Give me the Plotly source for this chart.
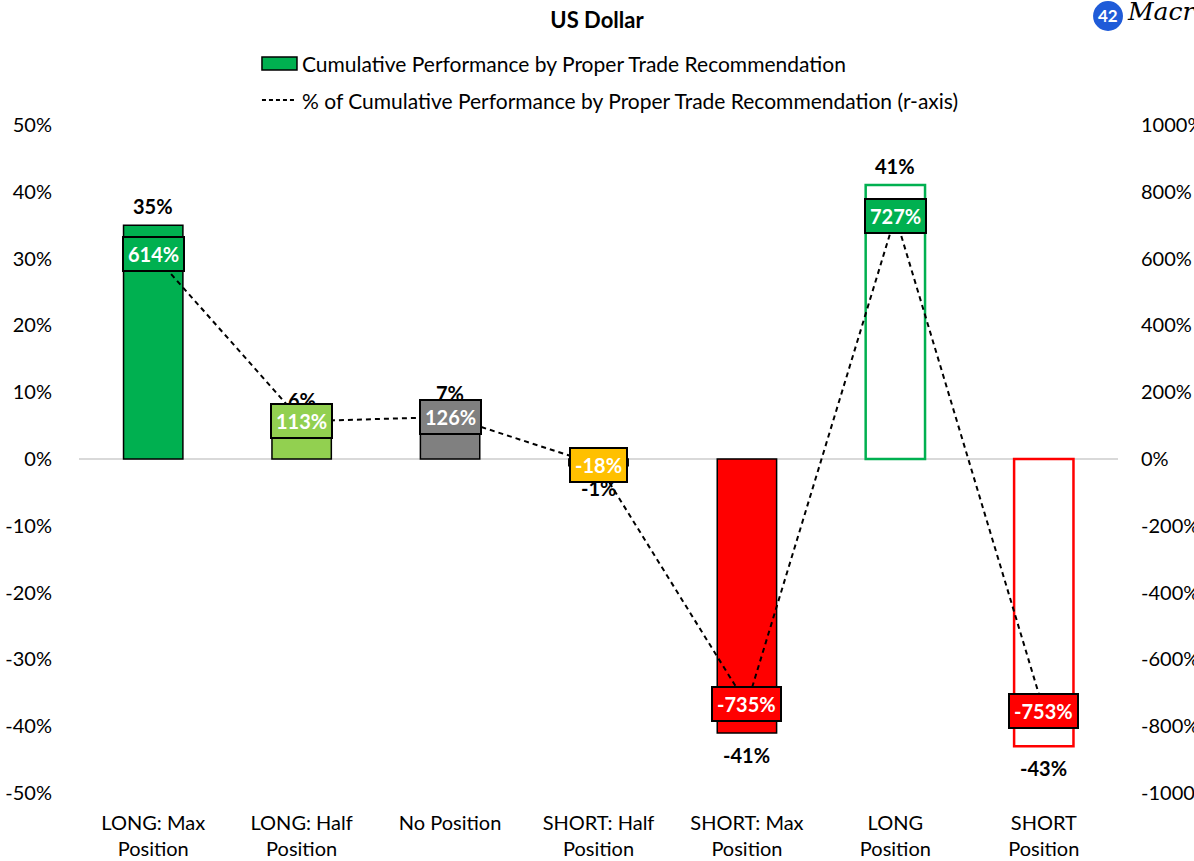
import plotly.graph_objects as go

# Categories and values
categories = ["LONG: Max<br>Position", "LONG: Half<br>Position", "No Position",
              "SHORT: Half<br>Position", "SHORT: Max<br>Position", "LONG<br>Position",
              "SHORT<br>Position"]
cum_perf = [35, 6, 7, -1, -41, 41, -43]          # left axis, %
pct_of_cum = [614, 113, 126, -18, -735, 727, -753]  # right axis, %

# Axis ticks
left_ticks = list(range(-50, 51, 10))
right_ticks = list(range(-1000, 1001, 200))

# Styling per category
fill_colors = ["#00B050", "#92D050", "#808080", "#FFC000", "#FF0000", "#FFFFFF", "#FFFFFF"]
edge_colors = ["#000000", "#000000", "#000000", "#000000", "#000000", "#00B050", "#FF0000"]
edge_widths = [1.5, 1.5, 1.5, 1.5, 1.5, 2.5, 2.5]
box_colors = ["#00B050", "#92D050", "#808080", "#FFC000", "#FF0000", "#00B050", "#FF0000"]

FONT = "Lato"

fig = go.Figure()

fig.add_trace(go.Bar(
    x=categories, y=cum_perf, width=0.4,
    marker=dict(color=fill_colors, line=dict(color=edge_colors, width=edge_widths)),
    showlegend=False, hoverinfo="skip",
))

fig.add_trace(go.Scatter(
    x=categories, y=pct_of_cum, yaxis="y2", mode="lines",
    line=dict(color="black", width=2, dash="5px,4px"),
    showlegend=False, hoverinfo="skip",
))

annotations = []
# value labels at bar ends
for c, v in zip(categories, cum_perf):
    annotations.append(dict(
        x=c, y=v, xref="x", yref="y", text=f"<b>{v}%</b>", showarrow=False,
        yanchor="bottom" if v >= 0 else "top", yshift=5 if v >= 0 else -8,
        font=dict(family=FONT, size=20, color="black"),
    ))
# boxed labels on the r-axis line
for c, v, col in zip(categories, pct_of_cum, box_colors):
    annotations.append(dict(
        x=c, y=v, xref="x", yref="y2", text=f"<b>{v}%</b>", showarrow=False,
        bgcolor=col, bordercolor="black", borderwidth=2, borderpad=4,
        font=dict(family=FONT, size=20, color="white"),
    ))

# legend entries
annotations.append(dict(x=0.2127, y=1.0928, xref="paper", yref="paper",
                        xanchor="left", yanchor="middle", showarrow=False,
                        text="Cumulative Performance by Proper Trade Recommendation",
                        font=dict(family=FONT, size=21, color="black")))
annotations.append(dict(x=0.2127, y=1.0374, xref="paper", yref="paper",
                        xanchor="left", yanchor="middle", showarrow=False,
                        text="% of Cumulative Performance by Proper Trade Recommendation (r-axis)",
                        font=dict(family=FONT, size=21, color="black")))
# logo
annotations.append(dict(x=0.9904, y=1.1632, xref="paper", yref="paper",
                        xanchor="center", yanchor="middle", showarrow=False,
                        text="<b>42</b>", font=dict(family=FONT, size=17, color="white")))
annotations.append(dict(x=1.0070, y=1.170, xref="paper", yref="paper",
                        xanchor="left", yanchor="middle", showarrow=False,
                        text="<i>Macro</i>", font=dict(family="DejaVu Serif", size=25, color="black")))

shapes = [
    dict(type="rect", xref="paper", yref="paper", x0=0.1761, x1=0.2098, y0=1.0823, y1=1.1018,
         fillcolor="#00B050", line=dict(color="black", width=1.5)),
    dict(type="line", xref="paper", yref="paper", x0=0.1761, x1=0.2098, y0=1.0374, y1=1.0374,
         line=dict(color="black", width=2, dash="4px,3px")),
    dict(type="circle", xref="paper", yref="paper", x0=0.9760, x1=1.0048, y0=1.1408, y1=1.1856,
         fillcolor="#1F5BD8", line=dict(width=0)),
]

fig.update_layout(
    width=1194, height=861,
    margin=dict(l=79, r=76, t=125, b=68),
    paper_bgcolor="white", plot_bgcolor="white",
    font=dict(family=FONT, size=20, color="black"),
    title=dict(text="<b>US Dollar</b>", x=0.5, xanchor="center", y=0.977, yanchor="middle",
               font=dict(family=FONT, size=22, color="black")),
    xaxis=dict(showgrid=False, showline=False, ticks="", tickfont=dict(size=20),
               ticklabelstandoff=16, automargin=False),
    yaxis=dict(range=[-50, 50], tickvals=left_ticks, ticktext=[f"{t}%" for t in left_ticks],
               showgrid=False, zeroline=True, zerolinecolor="#D9D9D9", zerolinewidth=1.5,
               showline=False, ticklabelstandoff=26, tickfont=dict(size=20),
               automargin=False),
    yaxis2=dict(range=[-1000, 1000], tickvals=right_ticks,
                ticktext=[f"{t}%" for t in right_ticks], overlaying="y", side="right",
                showgrid=False, zeroline=False, showline=False, ticklabelstandoff=22,
                tickfont=dict(size=20), automargin=False),
    annotations=annotations, shapes=shapes,
    showlegend=False,
)

fig.write_html("out.html")
